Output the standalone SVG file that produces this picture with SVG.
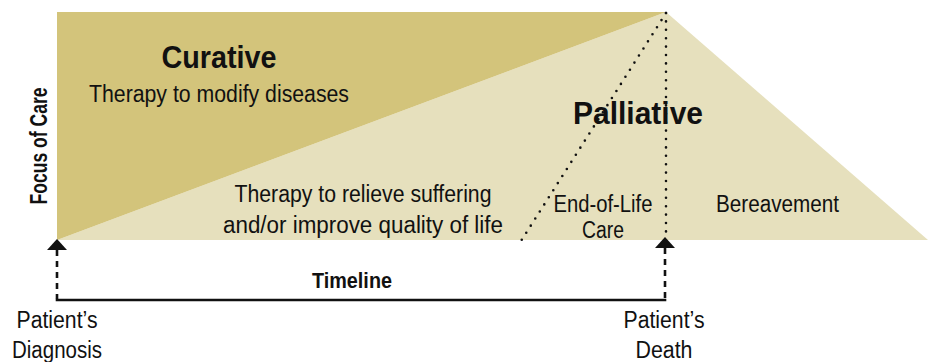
<svg xmlns="http://www.w3.org/2000/svg" width="930" height="362" viewBox="0 0 930 362">
<style>
text{font-family:"Liberation Sans",Arial,sans-serif;fill:#111;text-anchor:middle;}
.h{font-weight:bold;}
.t{font-size:23px;}
.dot{fill:none;stroke:#111;stroke-width:2.6;stroke-linecap:round;stroke-dasharray:0 8.4;}
.dash{fill:none;stroke:#111;stroke-width:2.6;stroke-dasharray:6 5;}
.solid{fill:none;stroke:#111;stroke-width:2.6;}
.head{fill:#111;}
</style>
<defs>
<path id="arrowhead" d="M0,0 L10,11 L-10,11 Z"/>
</defs>
<g id="palliative-area">
<polygon points="57,240 666,12 928,240" fill="#e6e0bd"/>
</g>
<g id="curative-area">
<polygon points="57,12 666,12 57,240" fill="#d3c47b"/>
</g>
<g id="connectors">
<line class="dot" x1="666" y1="13" x2="666" y2="233"/>
<line class="dot" x1="666" y1="13" x2="521" y2="241"/>
<line class="dash" x1="57" y1="250" x2="57" y2="299"/>
<line class="dash" x1="665" y1="248" x2="665" y2="299"/>
<line class="solid" x1="55.7" y1="300" x2="666.3" y2="300"/>
<use href="#arrowhead" class="head" x="57" y="239"/>
<use href="#arrowhead" class="head" x="665" y="237"/>
</g>
<g id="curative">
<text class="h" x="219" y="68" font-size="32" textLength="115" lengthAdjust="spacingAndGlyphs">Curative</text>
<text class="t" x="219" y="102" textLength="260" lengthAdjust="spacingAndGlyphs">Therapy to modify diseases</text>
</g>
<g id="relief">
<text class="t" x="363" y="202" textLength="257" lengthAdjust="spacingAndGlyphs">Therapy to relieve suffering</text>
<text class="t" x="363" y="233" textLength="280" lengthAdjust="spacingAndGlyphs">and/or improve quality of life</text>
</g>
<g id="palliative">
<text class="h" x="638" y="124" font-size="31.5" textLength="130" lengthAdjust="spacingAndGlyphs">Palliative</text>
</g>
<g id="end-of-life">
<text class="t" x="603" y="212" textLength="99" lengthAdjust="spacingAndGlyphs">End-of-Life</text>
<text class="t" x="603" y="238" textLength="42" lengthAdjust="spacingAndGlyphs">Care</text>
</g>
<g id="bereavement">
<text class="t" x="777.5" y="212" textLength="123" lengthAdjust="spacingAndGlyphs">Bereavement</text>
</g>
<g id="focus-axis">
<text class="h" transform="translate(47,146) rotate(-90)" font-size="23" textLength="117" lengthAdjust="spacingAndGlyphs">Focus of Care</text>
</g>
<g id="timeline">
<text class="h" x="352" y="288" font-size="22" textLength="80" lengthAdjust="spacingAndGlyphs">Timeline</text>
</g>
<g id="diagnosis">
<text class="t" x="57" y="328" textLength="81" lengthAdjust="spacingAndGlyphs">Patient’s</text>
<text class="t" x="57" y="358" textLength="90" lengthAdjust="spacingAndGlyphs">Diagnosis</text>
</g>
<g id="death">
<text class="t" x="664" y="328" textLength="81" lengthAdjust="spacingAndGlyphs">Patient’s</text>
<text class="t" x="664" y="358" textLength="57" lengthAdjust="spacingAndGlyphs">Death</text>
</g>
</svg>
